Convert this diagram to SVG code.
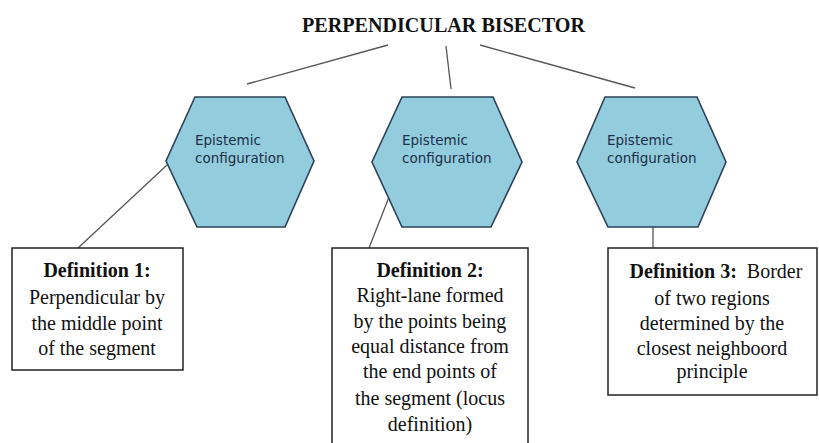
<svg xmlns="http://www.w3.org/2000/svg" width="819" height="443" viewBox="0 0 819 443">
<style>
.hex{fill:#93CDDD;stroke:#2B4158;stroke-width:1.6}
.ht{font-family:"DejaVu Sans",sans-serif;font-size:13.5px;fill:#1A2E48}
.box{fill:#fff;stroke:#222;stroke-width:1.5}
.bt{font-family:"Liberation Serif",serif;font-size:20px;fill:#111;text-anchor:middle}
.b{font-weight:bold}
.con{stroke:#555;stroke-width:1.3;fill:none}
</style>
<rect width="819" height="443" fill="#fff"/>
<g id="title">
<text x="302" y="32" font-family="Liberation Serif, serif" font-size="21" font-weight="bold" fill="#111" textLength="283" lengthAdjust="spacingAndGlyphs">PERPENDICULAR BISECTOR</text>
</g>
<g id="connectors">
<line class="con" x1="388" y1="45" x2="247" y2="84"/>
<line class="con" x1="446" y1="46" x2="451" y2="89"/>
<line class="con" x1="480" y1="45" x2="635" y2="88"/>
<line class="con" x1="167" y1="165" x2="78" y2="248"/>
<line class="con" x1="389" y1="197" x2="369" y2="248"/>
<line class="con" x1="653" y1="224" x2="653" y2="248"/>
</g>
<g id="hex1">
<polygon class="hex" points="195,97 285,97 314,161 285,227 197,227 166,161"/>
<text class="ht" x="195" y="145">Epistemic</text>
<text class="ht" x="195" y="163">configuration</text>
</g>
<g id="hex2">
<polygon class="hex" points="402,97 493,97 522,162 491,227 402,227 372,162"/>
<text class="ht" x="402" y="145">Epistemic</text>
<text class="ht" x="402" y="163">configuration</text>
</g>
<g id="hex3">
<polygon class="hex" points="605,97 697,97 726,162 698,227 608,227 577,162"/>
<text class="ht" x="607" y="145">Epistemic</text>
<text class="ht" x="607" y="163">configuration</text>
</g>
<g id="def1">
<rect class="box" x="12" y="248" width="171" height="122"/>
<text class="bt b" x="97" y="277">Definition 1:</text>
<text class="bt" x="97" y="304">Perpendicular by</text>
<text class="bt" x="97" y="330">the middle point</text>
<text class="bt" x="97" y="355">of the segment</text>
</g>
<g id="def2">
<rect class="box" x="332" y="248" width="196" height="200"/>
<text class="bt b" x="430" y="277">Definition 2:</text>
<text class="bt" x="430" y="302">Right-lane formed</text>
<text class="bt" x="430" y="328">by the points being</text>
<text class="bt" x="430" y="353">equal distance from</text>
<text class="bt" x="430" y="378">the end points of</text>
<text class="bt" x="430" y="405">the segment (locus</text>
<text class="bt" x="430" y="431">definition)</text>
</g>
<g id="def3">
<rect class="box" x="608" y="248" width="209" height="147"/>
<text class="bt" x="716" y="278" xml:space="preserve"><tspan class="b">Definition 3:</tspan>  Border</text>
<text class="bt" x="712" y="305">of two regions</text>
<text class="bt" x="712" y="330">determined by the</text>
<text class="bt" x="712" y="355">closest neighboord</text>
<text class="bt" x="712" y="378">principle</text>
</g>
</svg>
